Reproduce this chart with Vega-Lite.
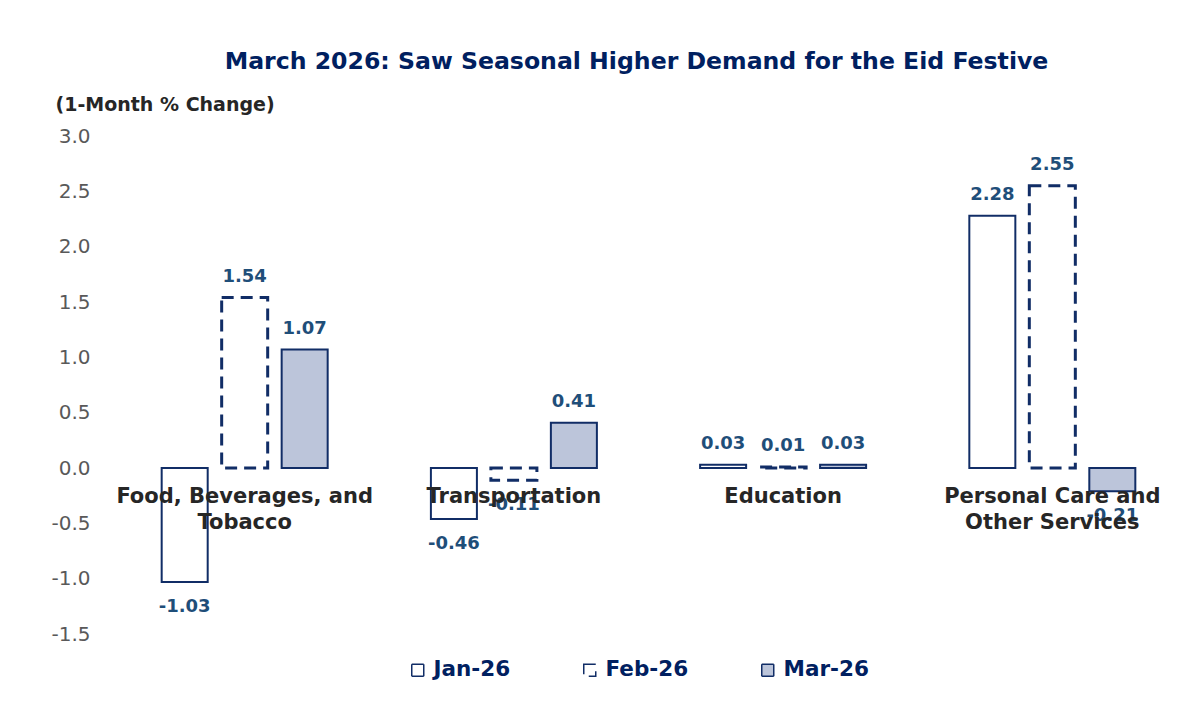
{
  "$schema": "https://vega.github.io/schema/vega-lite/v6.json",
  "autosize": {"type": "none"},
  "width": 1077,
  "height": 498,
  "padding": {"left": 110, "top": 136, "right": 12, "bottom": 85},
  "background": "white",
  "title": {
    "text": "March 2026: Saw Seasonal Higher Demand for the Eid Festive",
    "font": "DejaVu Sans",
    "fontSize": 23.6,
    "fontWeight": "bold",
    "color": "#002060",
    "anchor": "middle",
    "dx": -12,
    "offset": 21
  },
  "datasets": {
    "main": [
      {"category": "Food", "month": "Jan-26", "value": -1.03},
      {"category": "Food", "month": "Feb-26", "value": 1.54},
      {"category": "Food", "month": "Mar-26", "value": 1.07},
      {"category": "Transportation", "month": "Jan-26", "value": -0.46},
      {"category": "Transportation", "month": "Feb-26", "value": -0.11},
      {"category": "Transportation", "month": "Mar-26", "value": 0.41},
      {"category": "Education", "month": "Jan-26", "value": 0.03},
      {"category": "Education", "month": "Feb-26", "value": 0.01},
      {"category": "Education", "month": "Mar-26", "value": 0.03},
      {"category": "Personal", "month": "Jan-26", "value": 2.28},
      {"category": "Personal", "month": "Feb-26", "value": 2.55},
      {"category": "Personal", "month": "Mar-26", "value": -0.21}
    ],
    "cats": [
      {"category": "Food", "label": "Food, Beverages, and|Tobacco"},
      {"category": "Transportation", "label": "Transportation"},
      {"category": "Education", "label": "Education"},
      {"category": "Personal", "label": "Personal Care and|Other Services"}
    ]
  },
  "config": {
    "view": {"stroke": null},
    "font": "DejaVu Sans",
    "locale": {
      "number": {
        "decimal": ".",
        "thousands": ",",
        "grouping": [3],
        "currency": ["$", ""],
        "minus": "-"
      }
    }
  },
  "layer": [
    {
      "data": {"name": "main"},
      "mark": {"type": "bar"},
      "encoding": {
        "x": {
          "field": "category", "type": "nominal",
          "scale": {"domain": ["Food", "Transportation", "Education", "Personal"], "paddingInner": 0.3315, "paddingOuter": 0.166},
          "axis": null
        },
        "xOffset": {
          "field": "month", "type": "nominal",
          "scale": {"domain": ["Jan-26", "Feb-26", "Mar-26"], "paddingInner": 0.233, "paddingOuter": 0.1165}
        },
        "y": {
          "field": "value", "type": "quantitative",
          "scale": {"domain": [-1.5, 3.0], "nice": false, "zero": false},
          "axis": {
            "values": [-1.5, -1.0, -0.5, 0.0, 0.5, 1.0, 1.5, 2.0, 2.5, 3.0],
            "format": ".1f",
            "grid": false,
            "domain": false,
            "ticks": false,
            "labelPadding": 20,
            "labelFont": "DejaVu Sans",
            "labelFontSize": 20,
            "labelColor": "#595959",
            "title": "(1-Month % Change)",
            "titleFont": "DejaVu Sans",
            "titleFontSize": 19,
            "titleFontWeight": "bold",
            "titleColor": "#262626",
            "titleAngle": 0,
            "titleAlign": "left",
            "titleBaseline": "middle",
            "titleX": -55,
            "titleY": -32
          }
        },
        "fill": {
          "field": "month", "type": "nominal",
          "scale": {"domain": ["Jan-26", "Feb-26", "Mar-26"], "range": ["#ffffff", "#ffffff", "#bcc5da"]},
          "legend": {
            "title": null,
            "orient": "none",
            "legendX": 297,
            "legendY": 523,
            "direction": "horizontal",
            "columnPadding": 68,
            "symbolType": "square",
            "symbolSize": 144,
            "symbolStrokeColor": "#002060",
            "symbolStrokeWidth": 1.5,
            "labelFont": "DejaVu Sans",
            "labelFontSize": 21.5,
            "labelFontWeight": "bold",
            "labelColor": "#002060",
            "labelOffset": 5
          }
        },
        "strokeDash": {
          "field": "month", "type": "nominal",
          "scale": {"domain": ["Jan-26", "Feb-26", "Mar-26"], "range": [[1, 0], [12, 7], [1, 0]]}
        },
        "strokeWidth": {
          "condition": {"test": "datum.month === 'Feb-26'", "value": 3},
          "value": 2
        },
        "stroke": {"value": "#112d66"}
      }
    },
    {
      "data": {"name": "main"},
      "mark": {
        "type": "text",
        "font": "DejaVu Sans",
        "fontSize": 18,
        "fontWeight": "bold",
        "color": "#1f4e79",
        "baseline": "middle",
        "dy": {"expr": "datum.value < 0 ? 25 : -21"}
      },
      "encoding": {
        "x": {"field": "category", "type": "nominal"},
        "xOffset": {"field": "month", "type": "nominal"},
        "y": {"field": "value", "type": "quantitative"},
        "text": {"field": "value", "type": "quantitative", "format": ".2f"}
      }
    },
    {
      "mark": {"type": "rule", "color": "#d9d9d9", "strokeWidth": 2},
      "encoding": {"y": {"datum": 0}}
    },
    {
      "data": {"name": "cats"},
      "mark": {
        "type": "text",
        "font": "DejaVu Sans",
        "fontSize": 21,
        "fontWeight": "bold",
        "color": "#262626",
        "baseline": "middle",
        "lineBreak": "|",
        "lineHeight": 26,
        "dy": 29
      },
      "encoding": {
        "x": {"field": "category", "type": "nominal"},
        "y": {"datum": 0},
        "text": {"field": "label"}
      }
    }
  ]
}
